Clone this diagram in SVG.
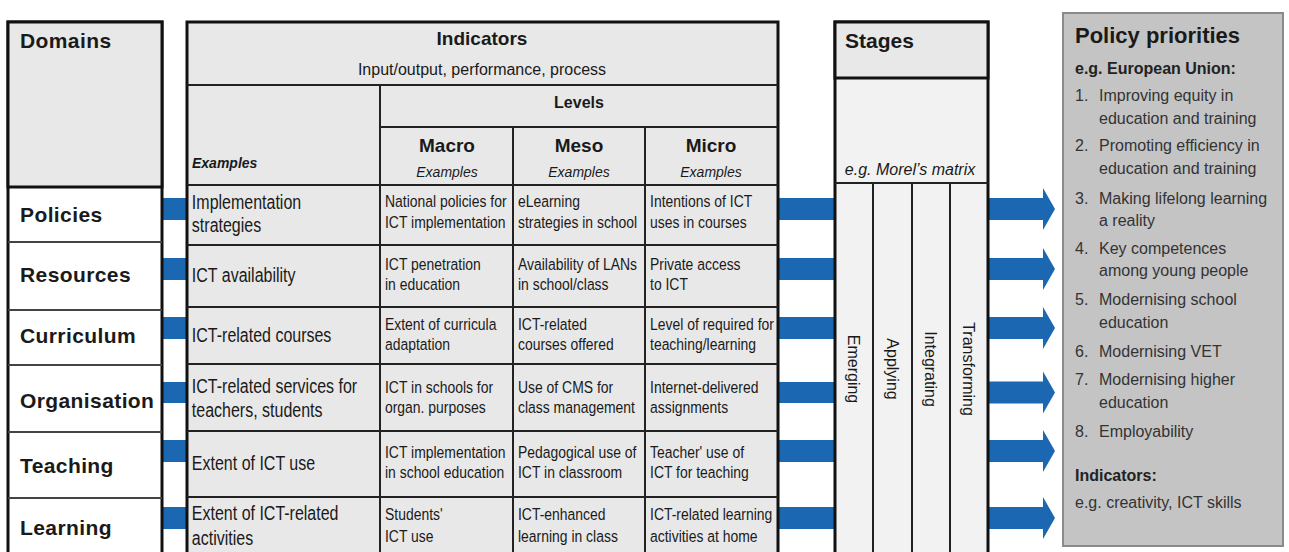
<svg xmlns="http://www.w3.org/2000/svg" width="1289" height="552" viewBox="0 0 1289 552">
<defs>
<style>
.s{font-family:'Liberation Sans',Arial,sans-serif;fill:#1a1a1a}
.n{font-family:'Liberation Sans',Arial,sans-serif;fill:#1a1a1a;font-size:17px}
.nx{font-size:19.5px}
.b{font-weight:bold}
.i{font-style:italic}
.m{text-anchor:middle}
.dom{font-family:'Liberation Sans',Arial,sans-serif;font-weight:bold;font-size:21px;letter-spacing:0.4px;fill:#1a1a1a}
.frame{stroke:#111;stroke-width:3}
.ln{stroke:#222;stroke-width:2;fill:none}
.dl{stroke:#444;stroke-width:2;fill:none}
.blue{fill:#1b67b2}
.pp{font-family:'Liberation Sans',Arial,sans-serif;font-size:16px;fill:#333}
.st{font-family:'Liberation Sans',Arial,sans-serif;font-size:16px;fill:#1a1a1a;text-anchor:middle}
</style>
<path id="arr" d="M0,-11H55V-21L67,0L55,21V11H0Z"/>
</defs>
<rect width="1289" height="552" fill="#fff"/>

<g id="connectors">
<rect class="blue" x="160" y="198" width="29" height="22"/>
<rect class="blue" x="160" y="258" width="29" height="22"/>
<rect class="blue" x="160" y="317" width="29" height="22"/>
<rect class="blue" x="160" y="382" width="29" height="21"/>
<rect class="blue" x="160" y="440" width="29" height="22"/>
<rect class="blue" x="160" y="507" width="29" height="22"/>
<rect class="blue" x="776" y="198" width="61" height="22"/>
<rect class="blue" x="776" y="258" width="61" height="22"/>
<rect class="blue" x="776" y="317" width="61" height="22"/>
<rect class="blue" x="776" y="382" width="61" height="21"/>
<rect class="blue" x="776" y="440" width="61" height="22"/>
<rect class="blue" x="776" y="507" width="61" height="22"/>
<use href="#arr" class="blue" x="988" y="209"/>
<use href="#arr" class="blue" x="988" y="269"/>
<use href="#arr" class="blue" x="988" y="328"/>
<use href="#arr" class="blue" x="988" y="392.5"/>
<use href="#arr" class="blue" x="988" y="451"/>
<use href="#arr" class="blue" x="988" y="518"/>
</g>

<g id="domains">
<rect class="frame" x="8" y="22" width="154" height="540" fill="#fff"/>
<rect class="frame" x="8" y="22" width="154" height="165" fill="#e8e8e8"/>
<text class="dom" x="20" y="48">Domains</text>
<g id="dom-policies"><text class="dom" x="20" y="222">Policies</text></g>
<line class="dl" x1="8" y1="242" x2="162" y2="242"/>
<g id="dom-resources"><text class="dom" x="20" y="282">Resources</text></g>
<line class="dl" x1="8" y1="310" x2="162" y2="310"/>
<g id="dom-curriculum"><text class="dom" x="20" y="343">Curriculum</text></g>
<line class="dl" x1="8" y1="365" x2="162" y2="365"/>
<g id="dom-organisation"><text class="dom" x="20" y="408">Organisation</text></g>
<line class="dl" x1="8" y1="432" x2="162" y2="432"/>
<g id="dom-teaching"><text class="dom" x="20" y="473">Teaching</text></g>
<line class="dl" x1="8" y1="498" x2="162" y2="498"/>
<g id="dom-learning"><text class="dom" x="20" y="535">Learning</text></g>
</g>

<g id="indicators">
<rect class="frame" x="187" y="22" width="591" height="540" fill="#e8e8e8"/>
<line class="ln" x1="187" y1="85" x2="778" y2="85"/>
<line class="ln" x1="380" y1="85" x2="380" y2="560"/>
<line class="ln" x1="380" y1="127" x2="778" y2="127"/>
<line class="ln" x1="187" y1="185" x2="778" y2="185"/>
<line class="ln" x1="513" y1="127" x2="513" y2="560"/>
<line class="ln" x1="645" y1="127" x2="645" y2="560"/>
<line class="ln" x1="187" y1="245" x2="778" y2="245"/>
<line class="ln" x1="187" y1="307" x2="778" y2="307"/>
<line class="ln" x1="187" y1="364" x2="778" y2="364"/>
<line class="ln" x1="187" y1="431" x2="778" y2="431"/>
<line class="ln" x1="187" y1="497" x2="778" y2="497"/>
<text class="s b m" x="482" y="45" font-size="19">Indicators</text>
<text class="s m" x="482" y="75" font-size="16">Input/output, performance, process</text>
<text class="s b m" x="579" y="108" font-size="16">Levels</text>
<text class="s b m" x="447" y="152" font-size="19">Macro</text>
<text class="s b m" x="579" y="152" font-size="19">Meso</text>
<text class="s b m" x="711" y="152" font-size="19">Micro</text>
<text class="s i m" x="447" y="177" font-size="14">Examples</text>
<text class="s i m" x="579" y="177" font-size="14">Examples</text>
<text class="s i m" x="711" y="177" font-size="14">Examples</text>
<text class="s b i" x="192" y="168" font-size="14">Examples</text>

<g transform="scale(0.82,1)">
<text class="n nx" x="234" y="209">Implementation</text>
<text class="n nx" x="234" y="232">strategies</text>
<text class="n" x="469.5" y="207">National policies for</text>
<text class="n" x="469.5" y="228">ICT implementation</text>
<text class="n" x="631.7" y="207">eLearning</text>
<text class="n" x="631.7" y="228">strategies in school</text>
<text class="n" x="792.7" y="207">Intentions of ICT</text>
<text class="n" x="792.7" y="228">uses in courses</text>

<text class="n nx" x="234" y="282">ICT availability</text>
<text class="n" x="469.5" y="270">ICT penetration</text>
<text class="n" x="469.5" y="290">in education</text>
<text class="n" x="631.7" y="270">Availability of LANs</text>
<text class="n" x="631.7" y="290">in school/class</text>
<text class="n" x="792.7" y="270">Private access</text>
<text class="n" x="792.7" y="290">to ICT</text>

<text class="n nx" x="234" y="342">ICT-related courses</text>
<text class="n" x="469.5" y="330">Extent of curricula</text>
<text class="n" x="469.5" y="350">adaptation</text>
<text class="n" x="631.7" y="330">ICT-related</text>
<text class="n" x="631.7" y="350">courses offered</text>
<text class="n" x="792.7" y="330">Level of required for</text>
<text class="n" x="792.7" y="350">teaching/learning</text>

<text class="n nx" x="234" y="393">ICT-related services for</text>
<text class="n nx" x="234" y="417">teachers, students</text>
<text class="n" x="469.5" y="393">ICT in schools for</text>
<text class="n" x="469.5" y="413">organ. purposes</text>
<text class="n" x="631.7" y="393">Use of CMS for</text>
<text class="n" x="631.7" y="413">class management</text>
<text class="n" x="792.7" y="393">Internet-delivered</text>
<text class="n" x="792.7" y="413">assignments</text>

<text class="n nx" x="234" y="470">Extent of ICT use</text>
<text class="n" x="469.5" y="458">ICT implementation</text>
<text class="n" x="469.5" y="478">in school education</text>
<text class="n" x="631.7" y="458">Pedagogical use of</text>
<text class="n" x="631.7" y="478">ICT in classroom</text>
<text class="n" x="792.7" y="458">Teacher' use of</text>
<text class="n" x="792.7" y="478">ICT for teaching</text>

<text class="n nx" x="234" y="520">Extent of ICT-related</text>
<text class="n nx" x="234" y="545">activities</text>
<text class="n" x="469.5" y="520">Students'</text>
<text class="n" x="469.5" y="542">ICT use</text>
<text class="n" x="631.7" y="520">ICT-enhanced</text>
<text class="n" x="631.7" y="542">learning in class</text>
<text class="n" x="792.7" y="520">ICT-related learning</text>
<text class="n" x="792.7" y="542">activities at home</text>
</g>
</g>

<g id="stages">
<rect class="frame" x="835" y="22" width="153" height="540" fill="#f2f2f2"/>
<rect class="frame" x="835" y="22" width="153" height="56" fill="#e8e8e8"/>
<line class="ln" x1="835" y1="183" x2="988" y2="183"/>
<line class="ln" x1="873" y1="183" x2="873" y2="560"/>
<line class="ln" x1="912" y1="183" x2="912" y2="560"/>
<line class="ln" x1="950" y1="183" x2="950" y2="560"/>
<text class="s b" x="845" y="48" font-size="21">Stages</text>
<text class="s i m" x="910" y="175" font-size="16">e.g. Morel’s matrix</text>
<text class="st" transform="translate(848,369) rotate(90)">Emerging</text>
<text class="st" transform="translate(886.5,369) rotate(90)">Applying</text>
<text class="st" transform="translate(925,369) rotate(90)">Integrating</text>
<text class="st" transform="translate(963,369) rotate(90)">Transforming</text>
</g>

<g id="policy-priorities">
<rect x="1063" y="13" width="220" height="533" fill="#c4c4c4" stroke="#8a8a8a" stroke-width="2"/>
<text class="s b" x="1075" y="43" font-size="22">Policy priorities</text>
<text class="s b" x="1075" y="74" font-size="16" style="fill:#222">e.g. European Union:</text>
<text class="pp" x="1075" y="101">1.</text><text class="pp" x="1099" y="101">Improving equity in</text>
<text class="pp" x="1099" y="124">education and training</text>
<text class="pp" x="1075" y="151">2.</text><text class="pp" x="1099" y="151">Promoting efficiency in</text>
<text class="pp" x="1099" y="174">education and training</text>
<text class="pp" x="1075" y="204">3.</text><text class="pp" x="1099" y="204">Making lifelong learning</text>
<text class="pp" x="1099" y="226">a reality</text>
<text class="pp" x="1075" y="254">4.</text><text class="pp" x="1099" y="254">Key competences</text>
<text class="pp" x="1099" y="276">among young people</text>
<text class="pp" x="1075" y="305">5.</text><text class="pp" x="1099" y="305">Modernising school</text>
<text class="pp" x="1099" y="328">education</text>
<text class="pp" x="1075" y="357">6.</text><text class="pp" x="1099" y="357">Modernising VET</text>
<text class="pp" x="1075" y="385">7.</text><text class="pp" x="1099" y="385">Modernising higher</text>
<text class="pp" x="1099" y="408">education</text>
<text class="pp" x="1075" y="437">8.</text><text class="pp" x="1099" y="437">Employability</text>
<text class="s b" x="1075" y="481" font-size="16" style="fill:#222">Indicators:</text>
<text class="pp" x="1075" y="508">e.g. creativity, ICT skills</text>
</g>
</svg>
